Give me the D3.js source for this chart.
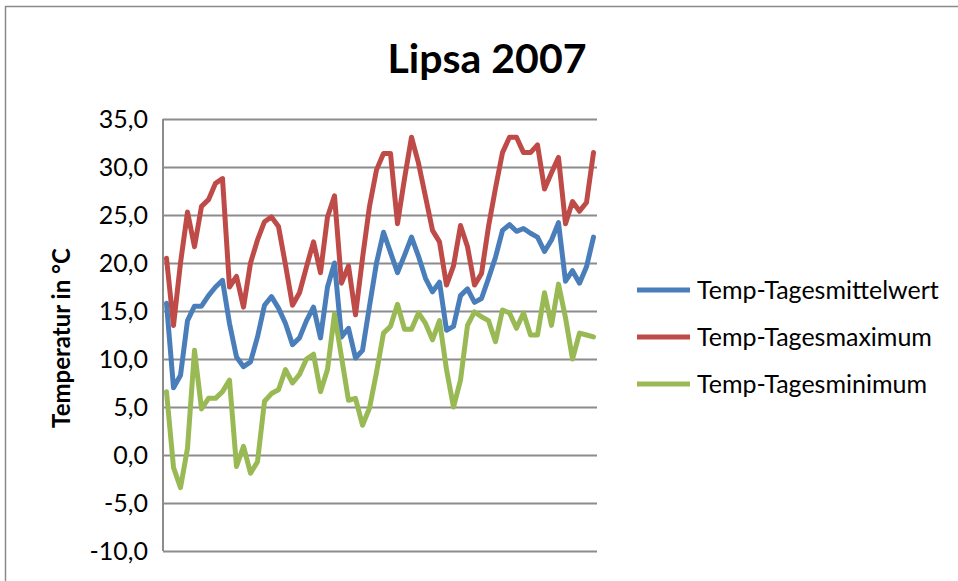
<!DOCTYPE html>
<html>
<head>
<meta charset="utf-8">
<script src="https://cdn.jsdelivr.net/npm/d3@7"></script>
<style>
  body { margin: 0; background: #fff; }
  svg { display: block; font-family: Lato, "Open Sans", sans-serif; }
</style>
</head>
<body>
<svg width="958" height="581"></svg>
<script>
// one point per measurement, no labels on the category axis
const days = d3.range(1, 63);

const tagesmittel = [15.8, 7.0, 8.3, 14.0, 15.5, 15.5, 16.6, 17.5, 18.2, 13.7,
  10.2, 9.2, 9.7, 12.3, 15.6, 16.5, 15.3, 13.7, 11.5, 12.2,
  14.0, 15.4, 12.2, 17.5, 20.0, 12.3, 13.2, 10.1, 10.9, 15.5,
  20.0, 23.2, 21.1, 19.0, 20.8, 22.7, 20.7, 18.4, 17.0, 18.0,
  13.0, 13.4, 16.6, 17.3, 15.9, 16.3, 18.4, 20.6, 23.4, 24.0,
  23.3, 23.6, 23.1, 22.7, 21.2, 22.4, 24.2, 18.1, 19.2, 17.9,
  19.6, 22.7];

const tagesmax = [20.5, 13.5, 20.0, 25.3, 21.7, 25.9, 26.6, 28.3, 28.8, 17.5,
  18.6, 15.4, 20.0, 22.4, 24.3, 24.8, 23.8, 19.8, 15.6, 16.9,
  19.6, 22.2, 19.0, 24.8, 27.0, 17.9, 19.7, 14.6, 20.5, 25.9,
  29.7, 31.4, 31.4, 24.1, 28.8, 33.1, 30.4, 26.9, 23.4, 22.2,
  17.7, 19.7, 23.9, 21.7, 17.7, 18.9, 23.8, 27.8, 31.5, 33.1,
  33.1, 31.5, 31.5, 32.3, 27.7, 29.4, 31.0, 24.1, 26.4, 25.4,
  26.3, 31.5];

const tagesmin = [6.6, -1.3, -3.4, 0.7, 10.9, 4.8, 5.9, 5.9, 6.6, 7.8,
  -1.2, 0.9, -1.9, -0.7, 5.6, 6.4, 6.8, 8.9, 7.5, 8.4,
  10.0, 10.5, 6.6, 8.9, 14.7, 10.2, 5.7, 5.9, 3.1, 4.9,
  8.6, 12.7, 13.4, 15.7, 13.1, 13.1, 14.8, 13.7, 12.0, 14.0,
  8.9, 5.0, 7.8, 13.5, 14.9, 14.4, 14.0, 11.8, 15.1, 14.8,
  13.2, 14.8, 12.5, 12.5, 16.9, 13.5, 17.8, 14.3, 10.0, 12.7,
  12.5, 12.3];

const seriesNames = ["Temp-Tagesmittelwert", "Temp-Tagesmaximum", "Temp-Tagesminimum"];
const seriesColors = ["#4a7ebb", "#be4b48", "#98b954"];
const yTicks = [-10, -5, 0, 5, 10, 15, 20, 25, 30, 35];

const series = [tagesmittel, tagesmax, tagesmin].map((vals, i) => ({
  name: seriesNames[i],
  color: seriesColors[i],
  values: vals.map((v, j) => ({ day: days[j], temp: v }))
}));

const plot = { left: 163, right: 597, top: 119, bottom: 551 };

const svg = d3.select("svg");

// chart frame (runs off the right and bottom edge of the picture)
svg.append("rect")
  .attr("x", 5.5).attr("y", 6.5)
  .attr("width", 1000).attr("height", 1000)
  .attr("fill", "#fff")
  .attr("stroke", "#8a8a8a")
  .attr("stroke-width", 1.5);

const x = d3.scalePoint()
  .domain(days)
  .range([plot.left, plot.right])
  .padding(0.5);

const y = d3.scaleLinear()
  .domain([d3.min(yTicks), d3.max(yTicks)])
  .range([plot.bottom, plot.top]);

// German decimal comma, plain hyphen for negatives
const fmt = d => d.toFixed(1).replace(".", ",");

const yAxis = svg.append("g")
  .attr("transform", `translate(${plot.left},0)`)
  .call(d3.axisLeft(y)
    .tickValues(yTicks)
    .tickSize(-(plot.right - plot.left))
    .tickPadding(15)
    .tickFormat(fmt));

yAxis.select(".domain").remove();
yAxis.selectAll(".tick line")
  .attr("stroke", "#8c8c8c")
  .attr("stroke-width", 2);
yAxis.selectAll(".tick text")
  .attr("fill", "#000")
  .attr("font-size", 25)
  .attr("font-family", "Lato, sans-serif");

// vertical axis line
svg.append("line")
  .attr("x1", plot.left).attr("x2", plot.left)
  .attr("y1", plot.top).attr("y2", plot.bottom)
  .attr("stroke", "#8c8c8c")
  .attr("stroke-width", 2);

const line = d3.line()
  .x(d => x(d.day))
  .y(d => y(d.temp));

svg.selectAll(".series")
  .data(series)
  .enter()
  .append("path")
  .attr("class", "series")
  .attr("d", d => line(d.values))
  .attr("fill", "none")
  .attr("stroke", d => d.color)
  .attr("stroke-width", 5)
  .attr("stroke-linejoin", "round")
  .attr("stroke-linecap", "round");

// title
svg.append("text")
  .attr("x", 487)
  .attr("y", 73)
  .attr("text-anchor", "middle")
  .attr("font-size", 41)
  .attr("font-weight", "bold")
  .text("Lipsa 2007");

// y axis title
svg.append("text")
  .attr("transform", "translate(70,338) rotate(-90)")
  .attr("text-anchor", "middle")
  .attr("font-size", 24)
  .attr("font-weight", "bold")
  .text("Temperatur in °C");

// legend
const legend = svg.selectAll(".legend")
  .data(series)
  .enter()
  .append("g")
  .attr("class", "legend")
  .attr("transform", (d, i) => `translate(637,${290 + i * 47})`);

legend.append("line")
  .attr("x1", 0).attr("x2", 53)
  .attr("stroke", d => d.color)
  .attr("stroke-width", 5);

legend.append("text")
  .attr("x", 60)
  .attr("y", 9)
  .attr("font-size", 25)
  .text(d => d.name);
</script>
</body>
</html>
